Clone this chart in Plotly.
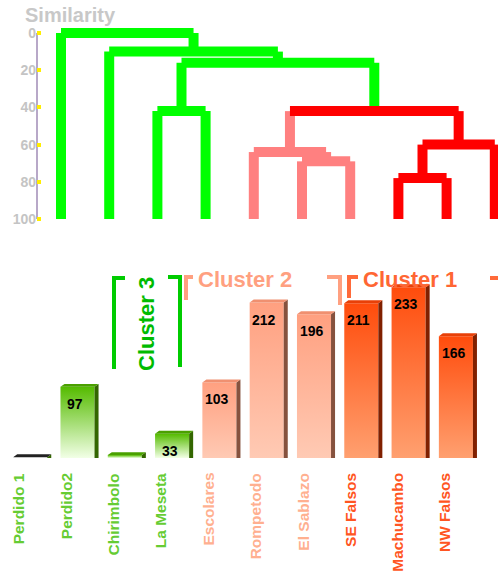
import plotly.graph_objects as go

# ---------------- data ----------------
sites = ["Perdido 1", "Perdido2", "Chirimbolo", "La Meseta", "Escolares",
         "Rompetodo", "El Sablazo", "SE Falsos", "Machucambo", "NW Falsos"]
abundance = [1, 97, 4, 33, 103, 212, 196, 211, 233, 166]
shown_labels = [None, 97, None, 33, 103, 212, 196, 211, 233, 166]
cluster_of_site = [3, 3, 3, 3, 2, 2, 2, 1, 1, 1]

# hierarchical clustering (leaves 0-9, merged nodes numbered from 10)
merge_left = [2, 5, 4, 7, 13, 12, 10, 1, 0]
merge_right = [3, 6, 11, 8, 9, 14, 15, 16, 17]
merge_similarity = [42, 69, 64, 78, 60, 42, 16, 10, 0]
merge_bar_group = ["g", "s", "s", "r", "r", "r", "g", "g", "g"]
stem_group = ["g", "g", "g", "g", "s", "s", "s", "r", "r", "r",
              "g", "s", "s", "r", "r", "g", "g", "g"]

similarity_ticks = [0, 20, 40, 60, 80, 100]

# ---------------- styling ----------------
W, H = 498, 575
FONT = "Liberation Sans"
DENDRO_COL = {"g": "#00ff00", "s": "#ff8080", "r": "#ff0000"}
BAR_STYLE = {
    3: dict(top="#55bb00", bottom="#f2ffe6", side="#336600", lid="#4aa000", text="#66cc33"),
    2: dict(top="#ffa080", bottom="#ffcab4", side="#86523e", lid="#f09070", text="#ffb090"),
    1: dict(top="#ff4c0c", bottom="#ffa070", side="#802000", lid="#e84008", text="#ff5522"),
}


def px(x):
    return x / W


def py(y):
    return 1 - y / H


def bold(s):
    return f"<b>{s}</b>"


fig = go.Figure()

# ---------------- dendrogram ----------------
n_leaf = len(sites)
node_x = list(range(n_leaf))
node_h = [100] * n_leaf
segments = {"g": ([], []), "s": ([], []), "r": ([], [])}


def add_seg(group, x0, y0, x1, y1):
    xs, ys = segments[group]
    xs.extend([x0, x1, None])
    ys.extend([y0, y1, None])


for a, b, h, grp in zip(merge_left, merge_right, merge_similarity, merge_bar_group):
    xa, xb = node_x[a], node_x[b]
    add_seg(grp, xa, h, xb, h)
    add_seg(stem_group[a], xa, h, xa, node_h[a])
    add_seg(stem_group[b], xb, h, xb, node_h[b])
    node_x.append((xa + xb) / 2)
    node_h.append(h)

for grp, (xs, ys) in segments.items():
    fig.add_trace(go.Scatter(
        x=xs, y=ys, mode="lines", connectgaps=False,
        line=dict(color=DENDRO_COL[grp], width=10),
        hoverinfo="skip", showlegend=False, xaxis="x", yaxis="y"))

# ---------------- 3D bars ----------------
half = 0.36
dx, dy = 0.085, 4.0
for i, (name, v, cl) in enumerate(zip(sites, abundance, cluster_of_site)):
    st = BAR_STYLE[cl]
    xl, xr = i - half, i + half
    # front face with vertical gradient
    fig.add_trace(go.Scatter(
        x=[xl, xr, xr, xl, xl], y=[0, 0, v, v, 0], mode="lines",
        fill="toself", line=dict(width=0),
        fillgradient=dict(type="vertical",
                          colorscale=[[0, st["bottom"]], [1, st["top"]]],
                          start=0, stop=v),
        hoverinfo="skip", showlegend=False, xaxis="x2", yaxis="y2"))
    # side face
    fig.add_trace(go.Scatter(
        x=[xr, xr, xr + dx, xr + dx, xr], y=[0, v, v + dy, 0, 0], mode="lines",
        fill="toself", fillcolor=st["side"], line=dict(width=0),
        hoverinfo="skip", showlegend=False, xaxis="x2", yaxis="y2"))
    # top face
    fig.add_trace(go.Scatter(
        x=[xl, xl + dx, xr + dx, xr, xl], y=[v, v + dy, v + dy, v, v], mode="lines",
        fill="toself", fillcolor=st["lid"] if v > 2 else "#222222", line=dict(width=0),
        hoverinfo="skip", showlegend=False, xaxis="x2", yaxis="y2"))

annotations = []
for i, lab in enumerate(shown_labels):
    if lab is None:
        continue
    annotations.append(dict(
        x=i - 0.05, y=abundance[i], xref="x2", yref="y2", yshift=-17,
        text=bold(lab), showarrow=False, xanchor="center", yanchor="middle",
        font=dict(family=FONT, size=14, color="#000000")))

for i, (name, cl) in enumerate(zip(sites, cluster_of_site)):
    annotations.append(dict(
        x=i - 0.24, y=py(471), xref="x2", yref="paper", text=bold(name),
        textangle=-90, showarrow=False, xanchor="center", yanchor="top",
        font=dict(family=FONT, size=15.5, color=BAR_STYLE[cl]["text"])))

# titles and cluster captions
annotations.append(dict(
    x=px(23), y=py(2), xref="paper", yref="paper", text=bold("Similarity"),
    showarrow=False, xanchor="left", yanchor="top",
    font=dict(family=FONT, size=20, color="#c8c8c8")))
annotations.append(dict(
    x=px(146), y=py(324), xref="paper", yref="paper", text=bold("Cluster 3"),
    textangle=-90, showarrow=False, xanchor="center", yanchor="middle",
    font=dict(family=FONT, size=22, color="#00bb00")))
annotations.append(dict(
    x=px(196), y=py(279), xref="paper", yref="paper", text=bold("Cluster 2"),
    showarrow=False, xanchor="left", yanchor="middle",
    font=dict(family=FONT, size=22, color="#ffa080")))
annotations.append(dict(
    x=px(361), y=py(279), xref="paper", yref="paper", text=bold("Cluster 1"),
    showarrow=False, xanchor="left", yanchor="middle",
    font=dict(family=FONT, size=22, color="#ff6633")))


def bracket(points, color):
    path = "M " + " L ".join(f"{px(x):.5f},{py(y):.5f}" for x, y in points)
    return dict(type="path", path=path, xref="paper", yref="paper",
                line=dict(color=color, width=4))


shapes = [
    bracket([(125, 278), (114, 278), (114, 369)], "#00cc00"),
    bracket([(168, 277), (180, 277), (180, 367)], "#00cc00"),
    bracket([(193, 277), (186, 277), (186, 300)], "#ffa080"),
    bracket([(327, 277), (340, 277), (340, 305)], "#ffa080"),
    bracket([(358, 277), (349, 277), (349, 298)], "#ff6a3a"),
    bracket([(490, 278), (498, 278)], "#ff6a3a"),
    # similarity axis line
    dict(type="line", xref="paper", yref="y", x0=px(37), x1=px(37), y0=0, y1=100,
         line=dict(color="#b8a8c8", width=2), layer="below"),
]

fig.update_layout(
    width=W, height=H, margin=dict(l=0, r=0, t=0, b=0),
    paper_bgcolor="white", plot_bgcolor="white", showlegend=False,
    xaxis=dict(domain=[0, 1], range=[-61 / 48.2, (W - 61) / 48.2], visible=False,
               anchor="y", fixedrange=True),
    yaxis=dict(domain=[py(230), 1], range=[(230 - 33) / 1.86, -33 / 1.86],
               anchor="free", position=px(36), showgrid=False, zeroline=False,
               showline=False, tickvals=similarity_ticks,
               ticktext=[bold(t) for t in similarity_ticks], ticks="inside",
               ticklen=4, tickwidth=4, tickcolor="#ffee00",
               tickfont=dict(family=FONT, size=14, color="#c4c4c4")),
    xaxis2=dict(domain=[0, 1], range=[-30.2 / 47.3, (W - 30.2) / 47.3], visible=False,
                anchor="y2"),
    yaxis2=dict(domain=[py(458), py(238)], range=[0, 300], visible=False, anchor="x2"),
    annotations=annotations, shapes=shapes,
)

fig.write_html("out.html")
